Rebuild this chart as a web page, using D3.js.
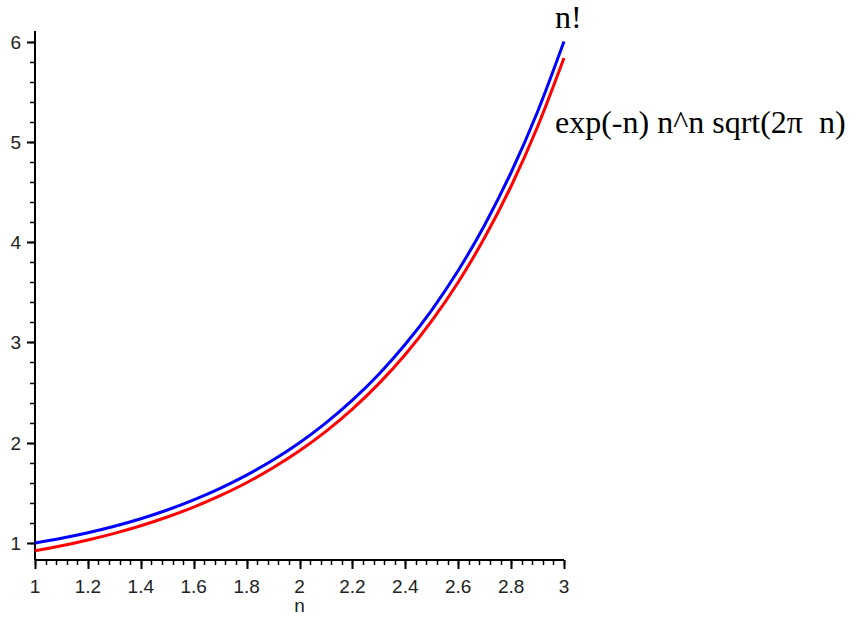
<!DOCTYPE html>
<html>
<head>
<meta charset="utf-8">
<script src="https://cdn.jsdelivr.net/npm/d3@7"></script>
<style>
  body { margin: 0; background: #fff; }
  svg { display: block; }
</style>
</head>
<body>
<svg width="859" height="618"></svg>
<script>
// n from 1 to 3
const nValues = [1.0, 1.1, 1.2, 1.3, 1.4, 1.5, 1.6, 1.7, 1.8, 1.9, 2.0,
  2.1, 2.2, 2.3, 2.4, 2.5, 2.6, 2.7, 2.8, 2.9, 3.0];
// n! (blue)
const factorialValues = [1.0, 1.047, 1.102, 1.167, 1.242, 1.329, 1.43, 1.545,
  1.677, 1.827, 2.0, 2.198, 2.424, 2.683, 2.981, 3.323, 3.717, 4.171, 4.694, 5.299, 6.0];
// exp(-n) n^n sqrt(2 pi n) (red)
const stirlingValues = [0.922, 0.972, 1.03, 1.096, 1.172, 1.259, 1.358, 1.472,
  1.601, 1.75, 1.919, 2.113, 2.335, 2.589, 2.88, 3.215, 3.6, 4.045, 4.557, 5.15, 5.836];
const xTicks = [1, 1.2, 1.4, 1.6, 1.8, 2, 2.2, 2.4, 2.6, 2.8, 3];
const yTicks = [1, 2, 3, 4, 5, 6];
const seriesLabels = ["n!", "exp(-n) n^n sqrt(2\u03c0  n)"];

const svg = d3.select("svg");

// plot area
const plotLeft = 35, plotRight = 564, plotTop = 31, plotBottom = 560;

const xScale = d3.scaleLinear().domain([1, 3]).range([plotLeft, plotRight]);
const yScale = d3.scaleLinear().domain([1, 6]).range([543, 41.5]);

//minor ticks
const xMinor = d3.range(1, 3.0001, 0.04);
const yMinor = d3.range(1, 6.0001, 0.2);

const tickFont = "'Liberation Sans', Arial, sans-serif";

// x axis
const xAxisG = svg.append("g").attr("transform", `translate(0,${plotBottom})`);
xAxisG.append("line")
  .attr("x1", plotLeft).attr("x2", plotRight)
  .attr("stroke", "#000").attr("stroke-width", 2);
xAxisG.selectAll(".minor")
  .data(xMinor)
  .enter()
  .append("line")
  .attr("class", "minor")
  .attr("x1", (d) => Math.round(xScale(d)) + 0.5)
  .attr("x2", (d) => Math.round(xScale(d)) + 0.5)
  .attr("y1", 0).attr("y2", 5)
  .attr("stroke", "#000").attr("stroke-width", 1.5);
xAxisG.selectAll(".major")
  .data(xTicks)
  .enter()
  .append("line")
  .attr("class", "major")
  .attr("x1", (d) => Math.round(xScale(d)) + 0.5)
  .attr("x2", (d) => Math.round(xScale(d)) + 0.5)
  .attr("y1", 0).attr("y2", 9)
  .attr("stroke", "#000").attr("stroke-width", 2);
xAxisG.selectAll("text")
  .data(xTicks)
  .enter()
  .append("text")
  .text((d) => d)
  .attr("x", (d) => xScale(d))
  .attr("y", 33)
  .attr("text-anchor", "middle")
  .attr("font-family", tickFont)
  .attr("font-size", 19)
  .attr("fill", "#222");

// y axis
const yAxisG = svg.append("g").attr("transform", `translate(${plotLeft},0)`);
yAxisG.append("line")
  .attr("y1", plotTop).attr("y2", plotBottom)
  .attr("stroke", "#000").attr("stroke-width", 2);
yAxisG.selectAll(".minor")
  .data(yMinor)
  .enter()
  .append("line")
  .attr("class", "minor")
  .attr("y1", (d) => Math.round(yScale(d)) + 0.5)
  .attr("y2", (d) => Math.round(yScale(d)) + 0.5)
  .attr("x1", 0).attr("x2", -5)
  .attr("stroke", "#000").attr("stroke-width", 1.5);
yAxisG.selectAll(".major")
  .data(yTicks)
  .enter()
  .append("line")
  .attr("class", "major")
  .attr("y1", (d) => Math.round(yScale(d)) + 0.5)
  .attr("y2", (d) => Math.round(yScale(d)) + 0.5)
  .attr("x1", 0).attr("x2", -8)
  .attr("stroke", "#000").attr("stroke-width", 2);
yAxisG.selectAll("text")
  .data(yTicks)
  .enter()
  .append("text")
  .text((d) => d)
  .attr("x", -14)
  .attr("y", (d) => yScale(d) + 7)
  .attr("text-anchor", "end")
  .attr("font-family", tickFont)
  .attr("font-size", 19)
  .attr("fill", "#222");

// axis title
svg.append("text")
  .text("n")
  .attr("x", xScale(2))
  .attr("y", 612)
  .attr("text-anchor", "middle")
  .attr("font-family", tickFont)
  .attr("font-size", 19)
  .attr("fill", "#222");

// curves
const line = d3.line()
  .x((d, i) => xScale(nValues[i]))
  .y((d) => yScale(d))
  .curve(d3.curveMonotoneX);

svg.append("path")
  .attr("d", line(stirlingValues))
  .attr("fill", "none")
  .attr("stroke", "#ff0000")
  .attr("stroke-width", 3);

svg.append("path")
  .attr("d", line(factorialValues))
  .attr("fill", "none")
  .attr("stroke", "#0000ff")
  .attr("stroke-width", 3);

// curve labels
const serifFont = "'Liberation Serif', 'Times New Roman', serif";
svg.append("text")
  .text(seriesLabels[0])
  .attr("x", 555)
  .attr("y", 28)
  .attr("font-family", serifFont)
  .attr("font-size", 32)
  .attr("fill", "#000");
svg.append("text")
  .text(seriesLabels[1])
  .attr("x", 555)
  .attr("y", 133)
  .attr("font-family", serifFont)
  .attr("font-size", 32)
  .style("white-space", "pre")
  .attr("fill", "#000");
</script>
</body>
</html>
